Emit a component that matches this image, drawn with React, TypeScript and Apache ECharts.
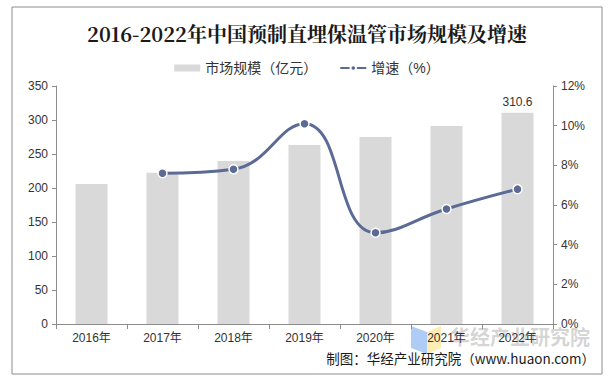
import React, { useEffect, useRef } from "react";
import * as echarts from "echarts";

const categories = ["2016年", "2017年", "2018年", "2019年", "2020年", "2021年", "2022年"];
const marketSize = [206, 222.5, 239.7, 263.2, 275, 291.2, 310.6];
const growth: (number | null)[] = [null, 7.6, 7.8, 10.1, 4.6, 5.8, 6.8];
const leftTicks = [0, 350, 50];
const rightTicks = [0, 12, 2];

const FONT = "'Liberation Sans', Arial, 'Noto Sans CJK SC', sans-serif";

export default function App() {
  const ref = useRef<HTMLDivElement>(null);
  useEffect(() => {
    if (!ref.current) return;
    const chart = echarts.init(ref.current, undefined, { renderer: "svg" });
    chart.setOption({
      animation: false,
      backgroundColor: "#ffffff",
      title: {
        text: "2016-2022年中国预制直埋保温管市场规模及增速",
        left: "center",
        top: 18,
        textStyle: {
          fontFamily: "'Noto Serif CJK SC', 'DejaVu Serif', serif",
          fontSize: 20,
          fontWeight: "bold",
          color: "#1a1a1a",
        },
      },
      legend: {
        top: 56,
        left: "center",
        itemGap: 22,
        itemWidth: 26,
        itemHeight: 7,
        textStyle: { fontFamily: FONT, fontSize: 14, color: "#333" },
        data: [
          { name: "市场规模（亿元）", icon: "rect", itemStyle: { color: "#d9d9d9" } },
          { name: "增速（%）" },
        ],
      },
      grid: { left: 56, right: 61, top: 86, bottom: 58 },
      xAxis: {
        type: "category",
        data: categories,
        axisLine: { lineStyle: { color: "#8c8c8c" } },
        axisTick: { show: true, length: 5, lineStyle: { color: "#8c8c8c" } },
        axisLabel: { fontFamily: FONT, fontSize: 12, color: "#333", margin: 8 },
      },
      yAxis: [
        {
          type: "value",
          min: leftTicks[0],
          max: leftTicks[1],
          interval: leftTicks[2],
          splitLine: { show: false },
          axisLine: { show: true, lineStyle: { color: "#8c8c8c" } },
          axisTick: { show: true, length: 4, lineStyle: { color: "#8c8c8c" } },
          axisLabel: { fontFamily: FONT, fontSize: 12, color: "#333", margin: 8 },
        },
        {
          type: "value",
          min: rightTicks[0],
          max: rightTicks[1],
          interval: rightTicks[2],
          splitLine: { show: false },
          axisLine: { show: true, lineStyle: { color: "#8c8c8c" } },
          axisTick: { show: true, length: 4, lineStyle: { color: "#8c8c8c" } },
          axisLabel: { fontFamily: FONT, fontSize: 12, color: "#333", margin: 8, formatter: "{value}%" },
        },
      ],
      series: [
        {
          name: "市场规模（亿元）",
          type: "bar",
          data: marketSize.map((v, i) => ({
            value: v,
            label: {
              show: i === marketSize.length - 1,
              position: "top",
              fontFamily: FONT,
              fontSize: 12,
              color: "#333",
              formatter: "{c}",
            },
          })),
          barWidth: 32,
          itemStyle: { color: "#d9d9d9" },
        },
        {
          name: "增速（%）",
          type: "line",
          yAxisIndex: 1,
          data: growth,
          smooth: 0.45,
          symbol: "circle",
          symbolSize: 9,
          lineStyle: { color: "#5b6b95", width: 3 },
          itemStyle: { color: "#5b6b95", borderColor: "#ffffff", borderWidth: 1.5 },
        },
      ],
      graphic: [
        {
          type: "rect",
          shape: { x: 12, y: 7, width: 590, height: 367 },
          style: { fill: "none", stroke: "#8c8c8c", lineWidth: 1 },
          silent: true,
        },
        {
          type: "polygon",
          shape: { points: [[411, 326], [427, 332], [427, 354], [411, 348]] },
          style: { fill: "rgba(120,170,240,0.6)" },
          silent: true,
        },
        {
          type: "polygon",
          shape: { points: [[427, 332], [441, 326], [441, 348], [427, 354]] },
          style: { fill: "rgba(250,225,130,0.6)" },
          silent: true,
        },
        {
          type: "text",
          x: 450,
          y: 326,
          style: {
            text: "华经产业研究院",
            font: "bold 20px 'Noto Sans CJK SC', sans-serif",
            fill: "rgba(160,160,160,0.45)",
          },
          silent: true,
        },
        {
          type: "text",
          right: 19,
          top: 351,
          style: {
            text: "制图：华经产业研究院（www.huaon.com）",
            font: "13.5px 'Noto Sans CJK SC', sans-serif",
            fill: "#1a1a1a",
          },
          silent: true,
        },
      ],
    });
    return () => chart.dispose();
  }, []);
  return <div ref={ref} style={{ width: 614, height: 382, position: "absolute", left: 0, top: 0 }} />;
}
